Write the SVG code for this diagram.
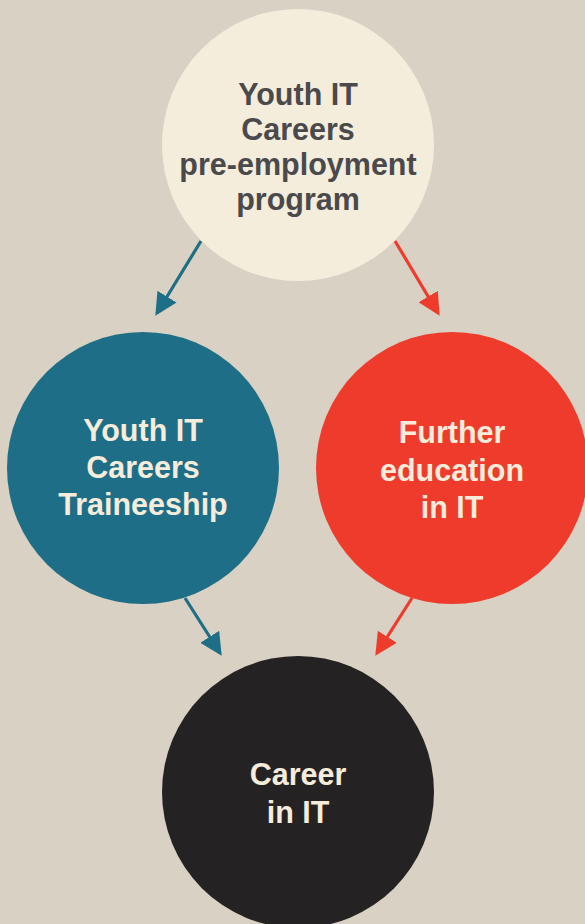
<svg xmlns="http://www.w3.org/2000/svg" width="585" height="924" viewBox="0 0 585 924">
<defs>
<style>
.t{font-family:"Liberation Sans","Open Sans",Arial,sans-serif;font-weight:bold;font-size:30.5px;text-anchor:middle}
.dark{fill:#4a4a4d}
.light{fill:#f6ecdb}
</style>
<marker id="hb" markerWidth="7" markerHeight="7" refX="6" refY="3.5" orient="auto" markerUnits="strokeWidth"><path d="M0,0 L7,3.5 L0,7 Z" fill="#1e6e87"/></marker>
<marker id="hr" markerWidth="7" markerHeight="7" refX="6" refY="3.5" orient="auto" markerUnits="strokeWidth"><path d="M0,0 L7,3.5 L0,7 Z" fill="#ef3b2c"/></marker>
</defs>
<rect width="585" height="924" fill="#d9d1c3"/>
<g id="connectors" stroke-width="3.2" fill="none">
<line x1="201" y1="241" x2="157" y2="313" stroke="#1e6e87" marker-end="url(#hb)"/>
<line x1="395" y1="241" x2="438" y2="313" stroke="#ef3b2c" marker-end="url(#hr)"/>
<line x1="185" y1="598" x2="220" y2="653" stroke="#1e6e87" marker-end="url(#hb)"/>
<line x1="412" y1="598" x2="377" y2="653" stroke="#ef3b2c" marker-end="url(#hr)"/>
</g>
<g id="n-pre">
<circle cx="298" cy="145" r="136" fill="#f5eddc"/>
<text class="t dark" x="298" y="105">Youth IT</text>
<text class="t dark" x="298" y="140">Careers</text>
<text class="t dark" x="298" y="175">pre-employment</text>
<text class="t dark" x="298" y="210">program</text>
</g>
<g id="n-trainee">
<circle cx="143" cy="468" r="136" fill="#1e6e87"/>
<text class="t light" x="143" y="441">Youth IT</text>
<text class="t light" x="143" y="478">Careers</text>
<text class="t light" x="143" y="515">Traineeship</text>
</g>
<g id="n-further">
<circle cx="452" cy="468" r="136" fill="#ef3b2c"/>
<text class="t light" x="452" y="443">Further</text>
<text class="t light" x="452" y="481">education</text>
<text class="t light" x="452" y="518">in IT</text>
</g>
<g id="n-career">
<circle cx="298" cy="792" r="136" fill="#252223"/>
<text class="t light" x="298" y="785">Career</text>
<text class="t light" x="298" y="823">in IT</text>
</g>
</svg>
